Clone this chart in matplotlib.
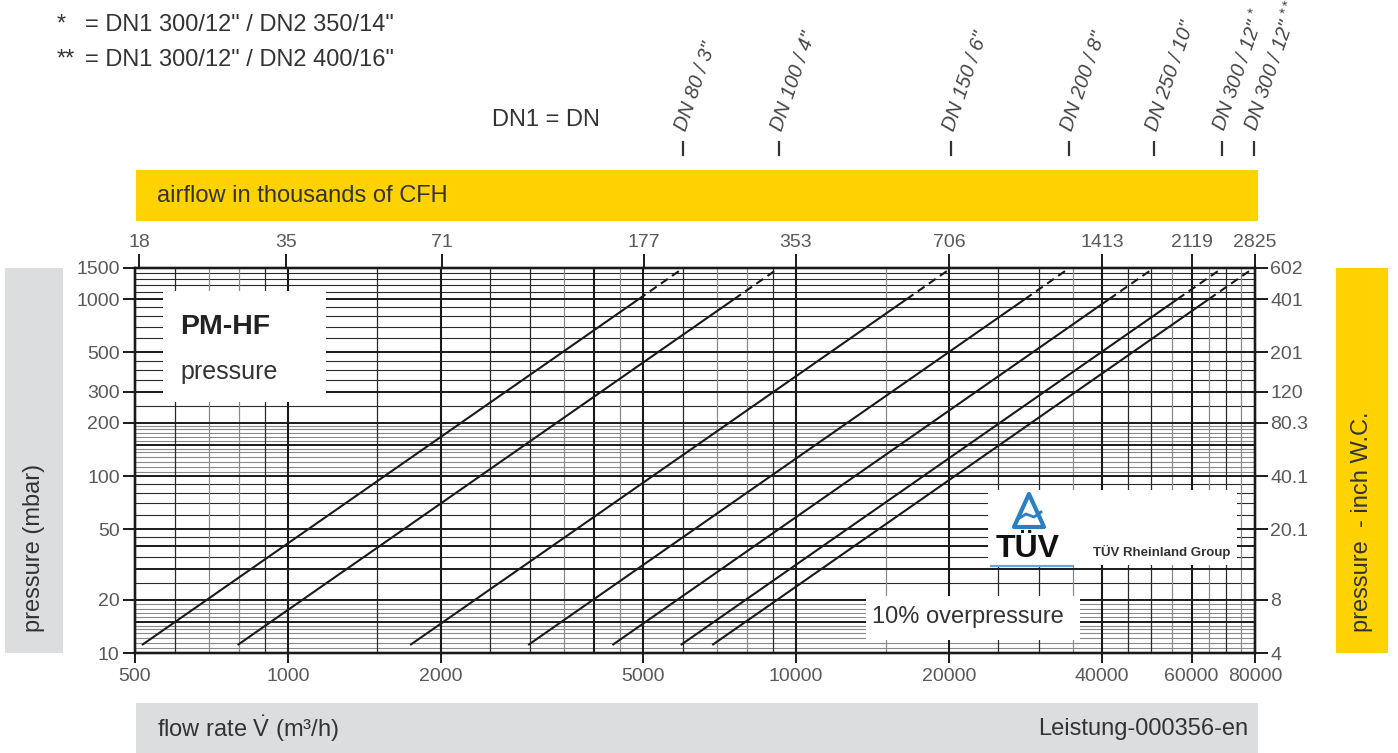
import matplotlib
matplotlib.use('Agg')
import matplotlib.pyplot as plt
from matplotlib.patches import Rectangle, Polygon
from matplotlib.lines import Line2D
import matplotlib.transforms as mtrans
from matplotlib.ticker import NullLocator

plt.rcParams['font.family'] = ['Liberation Sans', 'DejaVu Sans']
plt.rcParams['mathtext.fontset'] = 'custom'
plt.rcParams['mathtext.rm'] = 'Liberation Sans'
plt.rcParams['mathtext.it'] = 'Liberation Sans:italic'
plt.rcParams['mathtext.bf'] = 'Liberation Sans:bold'

# ---------------- data ----------------
dn_labels = ['DN 80 / 3"', 'DN 100 / 4"', 'DN 150 / 6"', 'DN 200 / 8"',
             'DN 250 / 10"', 'DN 300 / 12" $^{*}$', 'DN 300 / 12" $^{**}$']
# flow (m3/h) at start of each curve, at 1000 mbar (end of solid part), at 1500 mbar (end of dashed)
q_start = [516, 796, 1740, 2970, 4350, 5930, 6840]
p_start = [11.1, 11.1, 11.1, 11.1, 11.1, 11.1, 11.1]
q_solid_end = [4900, 7550, 16500, 28200, 41300, 56300, 64900]
p_solid_end = [1000, 1000, 1000, 1000, 1000, 1000, 1000]
q_dash_end = [6000, 9250, 20200, 34500, 50600, 69000, 79500]
p_dash_end = [1500, 1500, 1500, 1500, 1500, 1500, 1500]

x_ticks = [500, 1000, 2000, 5000, 10000, 20000, 40000, 60000, 80000]
x_tick_labels = ['500', '1000', '2000', '5000', '10000', '20000', '40000', '60000', '80000']
y_ticks = [10, 20, 50, 100, 200, 300, 500, 1000, 1500]
y_tick_labels = ['10', '20', '50', '100', '200', '300', '500', '1000', '1500']
cfh_thousands = [18, 35, 71, 177, 353, 706, 1413, 2119, 2825]
inwc_labels = ['4', '8', '20.1', '40.1', '80.3', '120', '201', '401', '602']

# grid values
h_thick = [15, 20, 30, 40, 50, 100, 150, 200, 300, 500, 1000, 1500]
h_thin = [25, 35, 45, 60, 70, 80, 90, 250, 350, 400, 450, 600, 700, 800, 900,
          1100, 1200, 1300, 1400]
h_gray = [10.7, 11.4, 12.1, 12.9, 13.6, 14.3, 15.9, 16.8, 17.8, 18.9,
          105, 112, 120, 128, 136, 143, 158, 166, 175, 184, 192]
v_thick = [1000, 2000, 4000, 5000, 10000, 20000, 40000, 60000]
v_black = [600, 900, 1500, 2500, 3000, 6000, 9000, 25000, 30000, 45000, 50000, 70000]
v_gray = [700, 800, 3500, 4500, 7000, 8000, 15000, 35000, 55000, 65000, 75000]

# ---------------- figure ----------------
W, H = 1398, 753
fig = plt.figure(figsize=(W / 100, H / 100), dpi=100)


def fx(x):
    return x / W


def fy(y):
    return 1 - y / H


INK = '#1a1a1a'
TXT = '#333333'
TICK = '#58595b'
YELLOW = '#ffd200'
GRAY = '#dcddde'

ax = fig.add_axes([fx(135), fy(653), 1120 / W, 385 / H])
ax.set_xscale('log')
ax.set_yscale('log')
ax.set_xlim(500, 80000)
ax.set_ylim(10, 1500)

for v in h_gray:
    ax.axhline(v, color='#8a8a8a', lw=0.8, zorder=1)
for v in h_thin:
    ax.axhline(v, color='#2a2a2a', lw=0.8, zorder=1)
for v in h_thick:
    ax.axhline(v, color=INK, lw=1.4, zorder=1.2)
for v in v_gray:
    ax.axvline(v, color='#8a8a8a', lw=0.9, zorder=1)
for v in v_black:
    ax.axvline(v, color='#2a2a2a', lw=0.9, zorder=1)
for v in v_thick:
    ax.axvline(v, color=INK, lw=1.5, zorder=1.2)

for i in range(len(dn_labels)):
    ax.plot([q_start[i], q_solid_end[i]], [p_start[i], p_solid_end[i]],
            color=INK, lw=1.5, zorder=3, solid_capstyle='butt')
    ax.plot([q_solid_end[i], q_dash_end[i]], [p_solid_end[i], p_dash_end[i]],
            color=INK, lw=1.5, zorder=3, linestyle=(0, (4, 2.5)))

for s in ax.spines.values():
    s.set_linewidth(1.6)
    s.set_color(INK)

ax.set_xticks(x_ticks)
ax.set_xticklabels(x_tick_labels)
ax.set_yticks(y_ticks)
ax.set_yticklabels(y_tick_labels)
ax.xaxis.set_minor_locator(NullLocator())
ax.yaxis.set_minor_locator(NullLocator())
ax.tick_params(axis='x', direction='out', length=7, width=1.4, color=INK,
               labelcolor=TICK, labelsize=14, pad=4)
ax.tick_params(axis='y', direction='out', length=9, width=1.4, color=INK,
               labelcolor=TICK, labelsize=14, pad=2)

# top axis: airflow in thousands of CFH
axt = ax.twiny()
axt.set_xscale('log')
axt.set_xlim(500, 80000)
axt.set_xticks([c * 28.3168 for c in cfh_thousands])
axt.set_xticklabels([str(c) for c in cfh_thousands])
axt.xaxis.set_minor_locator(NullLocator())
axt.tick_params(axis='x', direction='out', length=10, width=1.4, color=INK,
                labelcolor=TICK, labelsize=14, pad=2)
for s in axt.spines.values():
    s.set_linewidth(1.6)
    s.set_color(INK)

# right axis: inch W.C.
axr = ax.twinx()
axr.set_yscale('log')
axr.set_ylim(10, 1500)
axr.set_yticks(y_ticks)
axr.set_yticklabels(inwc_labels)
axr.yaxis.set_minor_locator(NullLocator())
axr.tick_params(axis='y', direction='out', length=9, width=1.4, color=INK,
                labelcolor=TICK, labelsize=14, pad=2)
for s in axr.spines.values():
    s.set_linewidth(1.6)
    s.set_color(INK)


def frect(x0, y0, x1, y1, color, z=2):
    r = Rectangle((fx(x0), fy(y1)), (x1 - x0) / W, (y1 - y0) / H,
                  transform=fig.transFigure, facecolor=color, edgecolor='none',
                  zorder=z)
    fig.add_artist(r)


# side / top / bottom bands
frect(136, 170, 1258, 221, YELLOW)
frect(136, 703, 1258, 753, GRAY)
frect(5, 268, 63, 653, GRAY)
frect(1336, 268, 1388, 653, YELLOW)

fig.text(fx(157), fy(196), 'airflow in thousands of CFH', fontsize=17, color=TXT,
         ha='left', va='center', zorder=4)
fig.text(fx(157), fy(729), r'flow rate $\dot{\mathrm{V}}$ (m³/h)', fontsize=17, color=TXT,
         ha='left', va='center', zorder=4)
fig.text(fx(1248), fy(729), 'Leistung-000356-en', fontsize=17, color=TXT,
         ha='right', va='center', zorder=4)
fig.text(fx(34), fy(632), 'pressure (mbar)', fontsize=17, color=TXT, rotation=90,
         ha='center', va='bottom', zorder=4)
fig.text(fx(1362), fy(632), 'pressure  - inch W.C.', fontsize=17, color=TXT, rotation=90,
         ha='center', va='bottom', zorder=4)

# white boxes inside plot
frect(163, 291, 326, 402, 'white')
fig.text(fx(180), fy(327), 'PM-HF', fontsize=20.5, fontweight='bold', color='#222222',
         ha='left', va='center', zorder=4)
fig.text(fx(180), fy(372), 'pressure', fontsize=18, color=TXT,
         ha='left', va='center', zorder=4)

frect(866, 596, 1080, 640, 'white')
fig.text(fx(968), fy(617), '10% overpressure', fontsize=17, color=TXT,
         ha='center', va='center', zorder=4)

frect(988, 490, 1237, 565, 'white')
BLUE = '#2b7fc3'
tri = Polygon([(fx(1029), fy(494)), (fx(1014), fy(527)), (fx(1044), fy(527))],
              closed=True, fill=False, edgecolor=BLUE, lw=3, transform=fig.transFigure,
              zorder=4, joinstyle='round')
fig.add_artist(tri)
fig.add_artist(Line2D([fx(1018), fx(1026), fx(1034), fx(1041)],
                      [fy(519), fy(514), fy(517), fy(512)], color=BLUE, lw=2,
                      transform=fig.transFigure, zorder=4))
fig.text(fx(1028), fy(549), 'TÜV', fontsize=23, fontweight='bold', color='#111111',
         ha='center', va='center', zorder=4)
fig.add_artist(Line2D([fx(991), fx(1072)], [fy(566), fy(566)], color='#6aa6db', lw=1.6,
                      transform=fig.transFigure, zorder=4))
fig.text(fx(1093), fy(552), 'TÜV Rheinland Group', fontsize=9.5, fontweight='bold',
         color='#333333', ha='left', va='center', zorder=4)

# header notes
fig.text(fx(57), fy(25), '*', fontsize=17, color=TXT, ha='left', va='center')
fig.text(fx(85), fy(25), '= DN1 300/12" / DN2 350/14"', fontsize=17, color=TXT,
         ha='left', va='center')
fig.text(fx(57), fy(60), '**', fontsize=17, color=TXT, ha='left', va='center')
fig.text(fx(85), fy(60), '= DN1 300/12" / DN2 400/16"', fontsize=17, color=TXT,
         ha='left', va='center')
fig.text(fx(492), fy(120), 'DN1 = DN', fontsize=17, color=TXT, ha='left', va='center')

# DN markers above chart
blend = mtrans.blended_transform_factory(ax.transData, fig.transFigure)
lab_tr = mtrans.offset_copy(blend, fig=fig, x=3, y=0, units='dots')
for i in range(len(dn_labels)):
    fig.add_artist(Line2D([q_dash_end[i], q_dash_end[i]], [fy(142), fy(155)],
                          color='#333333', lw=1.6, transform=blend, clip_on=False))
    fig.text(q_dash_end[i], fy(132), dn_labels[i], transform=lab_tr, rotation=71,
             rotation_mode='anchor', ha='left', va='baseline', fontsize=14.5,
             fontstyle='italic', color='#444444')

fig.savefig('out.png', dpi=100)
